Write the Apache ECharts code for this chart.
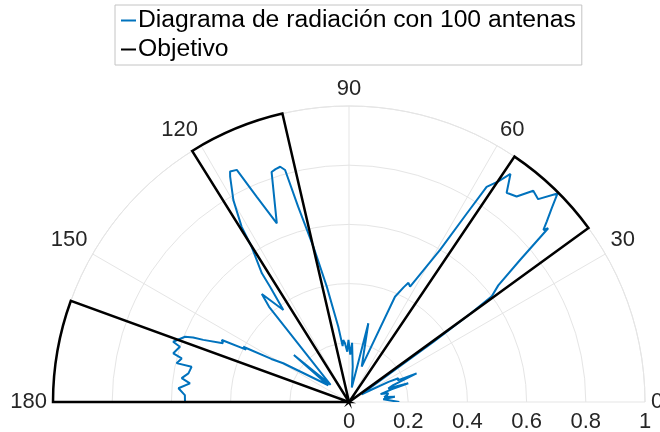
<!DOCTYPE html>
<html>
<head>
<meta charset="utf-8">
<script src="https://cdn.jsdelivr.net/npm/echarts@6/dist/echarts.min.js"></script>
<style>
  html, body { margin: 0; padding: 0; background: #fff; }
  #chart { width: 660px; height: 432px; }
</style>
</head>
<body>
<div id="chart"></div>
<script>
// angle labels on the half circle, radius ticks
const angleTicks = [0, 30, 60, 90, 120, 150, 180];
const radiusTicks = [0, 0.2, 0.4, 0.6, 0.8, 1];

// radiation pattern: angle (deg) and normalised gain
const patternAngles = [
    0, 1.5, 4.5, 6.6, 8, 10, 12.5, 14, 16.6, 17.5, 19, 21, 23, 24, 25.7, 27, 29, 31, 33,
    35, 35.5, 36, 36.5, 38, 39.7, 41.1, 41.5, 42.4, 43.7, 45, 47, 48.9, 50.8,
    53, 54.7, 55.9, 57.4, 58, 59.1, 62.1, 63.5, 64.5, 66.4, 70.2, 76.2, 79,
    84, 87, 88.5, 90.5, 92, 94, 95.3, 96.5, 98.1, 100.9, 102.9, 104.6, 105.4,
    106.3, 107.5, 108.6, 112, 114.2, 115.8, 117.3, 117.8, 119.8, 121.5, 122.1,
    124.1, 124.4, 125.5, 128.9, 130, 137, 139.5, 141, 149.5, 151, 152.4, 153,
    154, 155, 156.9, 157.5, 158.3, 161.1, 161.9, 164.5, 165.4, 167.3, 167.4,
    169.9, 171.9, 173.3, 175.4, 177.6, 180
];
const patternGain = [
    0.17, 0.172, 0.116, 0.156, 0.12, 0.13, 0.136, 0.11, 0.15, 0.21, 0.14, 0.16, 0.248, 0.18, 0.185, 0.15, 0.08, 0.05, 0.06,
    0.20, 0.35, 0.50, 0.60, 0.64, 0.751, 0.893, 0.877, 0.905, 0.947, 0.996, 0.937, 0.947, 0.896,
    0.885, 0.944, 0.90, 0.863, 0.751, 0.599, 0.441, 0.45, 0.43, 0.388, 0.127, 0.274, 0.05,
    0.12, 0.20, 0.16, 0.21, 0.17, 0.20, 0.21, 0.19, 0.257, 0.397, 0.538, 0.682, 0.813,
    0.828, 0.825, 0.82, 0.651, 0.76, 0.871, 0.876, 0.861, 0.786, 0.694, 0.619,
    0.525, 0.472, 0.382, 0.469, 0.42, 0.085, 0.245, 0.09, 0.258, 0.30, 0.403, 0.39,
    0.478, 0.47, 0.535, 0.57, 0.596, 0.628, 0.601, 0.616, 0.584, 0.597, 0.545,
    0.551, 0.571, 0.541, 0.578, 0.555, 0.554
];

// target sectors: outer radius, start and end angle (deg)
const targetRadius = [1, 1, 1];
const targetStart = [36, 103, 160];
const targetEnd = [56, 122, 180];

const seriesNames = ['Diagrama de radiación con 100 antenas', 'Objetivo'];

const gridColor = '#e5e5e5';
const textColor = '#262626';
const font = '"Liberation Sans", Arial, Helvetica, sans-serif';

const chart = echarts.init(document.getElementById('chart'), null, {renderer: 'canvas'});

const patternData = patternAngles.map((a, i) => [patternGain[i], a]);
const targetData = targetRadius.map((r, i) => [r, targetStart[i], targetEnd[i]]);

function renderSector(params, api) {
    const r = api.value(0);
    const c = api.coord([0, api.value(1)]);
    const p0 = api.coord([r, api.value(1)]);
    const p1 = api.coord([r, api.value(2)]);
    const R = Math.hypot(p0[0] - c[0], p0[1] - c[1]);
    return {
        type: 'sector',
        shape: {
            cx: c[0], cy: c[1], r: R, r0: 0,
            startAngle: Math.atan2(p0[1] - c[1], p0[0] - c[0]),
            endAngle: Math.atan2(p1[1] - c[1], p1[0] - c[0]),
            clockwise: false
        },
        style: {fill: 'none', stroke: '#000', lineWidth: 2.5, lineJoin: 'miter'}
    };
}

chart.setOption({
    animation: false,
    backgroundColor: '#fff',
    legend: {
        left: 115,
        top: 5,
        orient: 'vertical',
        padding: [3, 6, 3, 6],
        itemGap: 4,
        itemWidth: 15,
        itemHeight: 2,
        borderColor: '#c4c4c4',
        borderWidth: 1,
        textStyle: {fontFamily: font, fontSize: 24.7, color: '#000', lineHeight: 25, padding: [0, 0, 0, -3]},
        data: [
            {name: seriesNames[0], icon: 'rect', itemStyle: {color: '#0072BD'}},
            {name: seriesNames[1], icon: 'rect', itemStyle: {color: '#000'}}
        ]
    },
    polar: {center: [349, 402], radius: 296},
    angleAxis: {
        type: 'value',
        min: 0,
        max: 180,
        interval: 30,
        startAngle: 0,
        endAngle: 180,
        clockwise: false,
        axisLine: {show: true, lineStyle: {color: gridColor, width: 1}},
        axisTick: {show: false},
        axisLabel: {
            margin: 6,
            fontFamily: font,
            fontSize: 22,
            color: textColor,
            formatter: v => angleTicks.includes(v) ? String(v) : ''
        },
        splitLine: {show: true, lineStyle: {color: gridColor, width: 1}}
    },
    radiusAxis: {
        type: 'value',
        min: radiusTicks[0],
        max: radiusTicks[radiusTicks.length - 1],
        interval: 0.2,
        axisLine: {show: false},
        axisTick: {show: false},
        axisLabel: {
            margin: -9,
            verticalAlign: 'top',
            align: 'center',
            fontFamily: font,
            fontSize: 22,
            color: textColor,
            formatter: v => String(Math.round(v * 10) / 10)
        },
        splitLine: {show: true, lineStyle: {color: gridColor, width: 1}}
    },
    series: [
        {
            name: seriesNames[0],
            type: 'line',
            coordinateSystem: 'polar',
            data: patternData,
            showSymbol: false,
            symbol: 'none',
            lineStyle: {color: '#0072BD', width: 2},
            itemStyle: {color: '#0072BD'},
            z: 3
        },
        {
            name: seriesNames[1],
            type: 'custom',
            coordinateSystem: 'polar',
            data: targetData,
            encode: {radius: 0, angle: [1, 2]},
            renderItem: renderSector,
            itemStyle: {color: '#000'},
            z: 4
        }
    ]
});
</script>
</body>
</html>
